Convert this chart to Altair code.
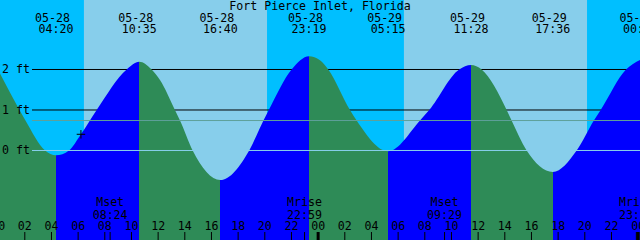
import altair as alt
import pandas as pd

# ---------------- data ----------------
TITLE = "Fort Pierce Inlet, Florida"
START_DAY = 28          # hours are counted from 05-28 00:00

# tide extremes (labels along the top) and their heights in feet
event_date = ["05-28", "05-28", "05-28", "05-28", "05-29", "05-29", "05-29", "05-30"]
event_time = ["04:20", "10:35", "16:40", "23:19", "05:15", "11:28", "17:36", "00:10"]
event_level = [-0.12, 2.19, -0.73, 2.33, -0.02, 2.11, -0.53, 2.24]

# further readings of the tide curve: hours after 05-28 00:00, feet
curve_hour = [0.14, 1.60, 2.05, 3.52, 5.31, 6.21, 7.39, 9.64, 11.51, 12.14,
              13.26, 13.64, 14.59, 18.83, 19.90, 20.30, 22.01, 24.14, 24.76,
              26.39, 26.89, 31.64, 32.33, 34.58, 36.26, 38.14,
              38.51, 39.64, 43.39, 44.68, 45.19, 47.09]
curve_level = [1.90, 1.00, 0.74, 0.00, 0.00, 0.40, 1.00, 2.00, 2.00, 1.74,
               1.00, 0.74, 0.00, 0.00, 0.74, 1.00, 2.00, 2.23, 2.00,
               1.00, 0.74, 0.74, 1.00, 2.00, 2.00, 1.00,
               0.74, 0.00, 0.00, 0.74, 1.00, 2.00]

# current-time marker
now_hour = [6.21]
now_level = [0.40]

# sun
sunrise = [("05-28", "06:26"), ("05-29", "06:26")]
sunset = [("05-28", "20:10"), ("05-29", "20:10")]

# moon
moon_event = ["Mset", "Mrise", "Mset", "Mrise"]
moon_date = ["05-28", "05-28", "05-29", "05-29"]
moon_time = ["08:24", "22:59", "09:29", "23:52"]

# left axis
grid_levels = [2, 1]
ft_labels = ["2 ft", "1 ft", "0 ft"]
ft_levels = [2, 1, 0]
datum_level = 0.0
mean_level = 0.74

# hour axis
hour_ticks = list(range(0, 49, 2))
midnights = [0, 24, 48]

# view window
X_START, X_END = 0.14, 48.14
Y_MIN, Y_MAX = -2.21, 3.716

# ---------------- styles ----------------
W, H = 640, 240
FONT = "DejaVu Sans Mono"
FS = 11.6
NIGHT = "#00BFFF"
DAY = "#87CEEB"
EBB = "#2E8B57"
FLOOD = "#0000FF"
DATUM = "#87CEEB"
MSL = "#5FA09A"


def to_hour(date, time):
    day = int(date.split("-")[1]) - START_DAY
    hh, mm = time.split(":")
    return 24 * day + int(hh) + int(mm) / 60.0


event_hour = [to_hour(d, t) for d, t in zip(event_date, event_time)]
events = pd.DataFrame({"hour": event_hour, "level": event_level,
                       "date": event_date, "time": event_time})

curve = pd.DataFrame({"hour": curve_hour + event_hour,
                      "level": curve_level + event_level}).sort_values("hour")
curve["base"] = Y_MIN

# ebb / flood gradient along the curve
h0, h1 = curve["hour"].min(), curve["hour"].max()
bounds = [h0] + [h for h in event_hour if h0 < h < h1] + [h1]
lev = dict(zip(curve["hour"], curve["level"]))
stops = []
for a, b in zip(bounds[:-1], bounds[1:]):
    col = FLOOD if lev[b] > lev[a] else EBB
    stops.append(alt.GradientStop(color=col, offset=(a - h0) / (h1 - h0)))
    stops.append(alt.GradientStop(color=col, offset=(b - h0) / (h1 - h0)))
grad = alt.Gradient(gradient="linear", stops=stops, x1=0, x2=1, y1=0, y2=0)

rise_h = [to_hour(d, t) for d, t in sunrise]
set_h = [to_hour(d, t) for d, t in sunset]
nights = pd.DataFrame({"start": [X_START] + set_h, "end": rise_h + [X_END]})
days = pd.DataFrame({"start": rise_h, "end": set_h})

moon = pd.DataFrame({"hour": [to_hour(d, t) for d, t in zip(moon_date, moon_time)],
                     "event": moon_event, "time": moon_time})
hours = pd.DataFrame({"hour": hour_ticks,
                      "label": [f"{h % 24:02d}" for h in hour_ticks]})
mids = pd.DataFrame({"hour": midnights})

xs = alt.Scale(domain=[X_START, X_END])
ys = alt.Scale(domain=[Y_MIN, Y_MAX], zero=False, nice=False)


def X(f):
    return alt.X(f"{f}:Q", scale=xs, axis=None)


def Y(f):
    return alt.Y(f"{f}:Q", scale=ys, axis=None)


txt = dict(font=FONT, fontSize=FS, color="black", baseline="alphabetic")

night_l = alt.Chart(nights).mark_rect(color=NIGHT).encode(
    x=X("start"), x2="end", y=alt.value(0), y2=alt.value(H))
day_l = alt.Chart(days).mark_rect(color=DAY).encode(
    x=X("start"), x2="end", y=alt.value(0), y2=alt.value(H))

grid_l = alt.Chart(pd.DataFrame({"level": grid_levels})).mark_rule(
    color="black", strokeWidth=1).encode(
    x=alt.value(32), x2=alt.value(W), y=Y("level"))

tide_l = alt.Chart(curve).mark_area(
    interpolate="monotone", clip=True, color=grad).encode(
    x=X("hour"), y=Y("level"), y2="base:Q")

msl_l = alt.Chart(pd.DataFrame({"level": [mean_level]})).mark_rule(
    color=MSL, strokeWidth=1).encode(
    x=alt.value(32), x2=alt.value(W), y=Y("level"))
datum_l = alt.Chart(pd.DataFrame({"level": [datum_level]})).mark_rule(
    color=DATUM, strokeWidth=1).encode(
    x=alt.value(32), x2=alt.value(W), y=Y("level"))

now_l = alt.Chart(pd.DataFrame({"hour": now_hour, "level": now_level})).mark_point(
    shape="M-1,0H1M0,-1V1", size=72, color="black", strokeWidth=1,
    filled=False, opacity=1).encode(x=X("hour"), y=Y("level"))

ft_l = alt.Chart(pd.DataFrame({"level": ft_levels, "label": ft_labels})).mark_text(
    align="left", dy=4.0, **txt).encode(
    x=alt.value(2), y=Y("level"), text="label:N")

title_l = alt.Chart(pd.DataFrame({"t": [TITLE]})).mark_text(
    align="center", **txt).encode(
    x=alt.value(W / 2), y=alt.value(10), text="t:N")

edate_l = alt.Chart(events).mark_text(align="center", dx=-3.5, **txt).encode(
    x=X("hour"), y=alt.value(21.7), text="date:N")
etime_l = alt.Chart(events).mark_text(align="center", **txt).encode(
    x=X("hour"), y=alt.value(33.3), text="time:N")

hlab_l = alt.Chart(hours).mark_text(align="center", **txt).encode(
    x=X("hour"), y=alt.value(230), text="label:N")
htick_l = alt.Chart(hours).mark_rule(color="black", strokeWidth=1).encode(
    x=X("hour"), y=alt.value(232), y2=alt.value(H))
mid_l = alt.Chart(mids).mark_rule(color="black", strokeWidth=3).encode(
    x=X("hour"), y=alt.value(232), y2=alt.value(H))

mev_l = alt.Chart(moon).mark_text(align="center", **txt).encode(
    x=X("hour"), y=alt.value(206), text="event:N")
mtime_l = alt.Chart(moon).mark_text(align="center", **txt).encode(
    x=X("hour"), y=alt.value(219), text="time:N")
mtick_l = alt.Chart(moon).mark_rule(color="black", strokeWidth=1).encode(
    x=X("hour"), y=alt.value(232), y2=alt.value(H))

chart = alt.layer(
    night_l, day_l, grid_l, tide_l, msl_l, datum_l, now_l, ft_l, title_l,
    edate_l, etime_l, hlab_l, htick_l, mid_l, mev_l, mtime_l, mtick_l
).properties(
    width=W, height=H, padding=0,
    autosize=alt.AutoSizeParams(type="none"),
    background=NIGHT,
).configure_view(stroke=None)

chart.save("out.html", embed_options={"renderer": "svg", "actions": False})
